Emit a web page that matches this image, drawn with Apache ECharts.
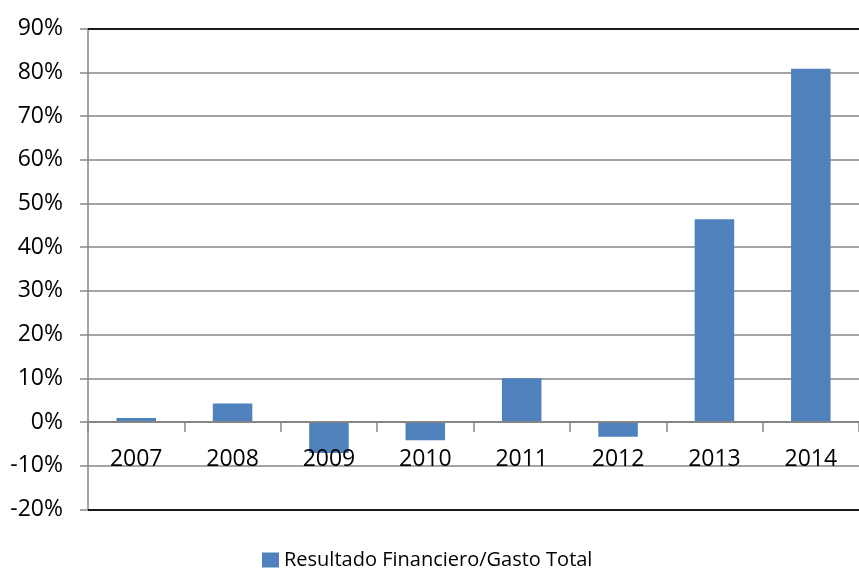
<!DOCTYPE html>
<html>
<head>
<meta charset="utf-8">
<script src="https://cdn.jsdelivr.net/npm/echarts@6/dist/echarts.min.js"></script>
<style>
  html, body { margin: 0; padding: 0; background: #fff; }
  #chart { width: 859px; height: 574px; }
</style>
</head>
<body>
<div id="chart"></div>
<script>
// Años del periodo analizado
const years = ['2007', '2008', '2009', '2010', '2011', '2012', '2013', '2014'];
// Resultado financiero como porcentaje del gasto total
const ratio = [0.9, 4.2, -7.1, -4.2, 10.0, -3.4, 46.4, 80.8];
const seriesName = 'Resultado Financiero/Gasto Total';
const yMin = -20, yMax = 90, yStep = 10;

const FONT = '"Open Sans", "Liberation Sans", sans-serif';
const chart = echarts.init(document.getElementById('chart'));

chart.setOption({
  animation: false,
  backgroundColor: '#ffffff',
  grid: { left: 88, top: 28.6, width: 781, bottom: 64.6, containLabel: false },
  legend: {
    data: [seriesName],
    left: 257, top: 545,
    itemWidth: 17, itemHeight: 15, itemGap: 3,
    icon: 'rect',
    textStyle: { fontFamily: FONT, fontSize: 20, color: '#000' }
  },
  xAxis: {
    type: 'category',
    data: years,
    z: 10,
    axisLine: { onZero: true, lineStyle: { color: '#868686', width: 2 } },
    axisTick: { show: true, alignWithLabel: false, length: 10, lineStyle: { color: '#868686', width: 1.5 } },
    // etiquetas de año justo debajo de la línea del 0 %
    axisLabel: { margin: -61, fontFamily: FONT, fontSize: 23, color: '#000' },
    splitLine: { show: false }
  },
  yAxis: {
    type: 'value',
    min: yMin, max: yMax, interval: yStep,
    axisLine: { show: true, lineStyle: { color: '#868686', width: 1.5 } },
    axisTick: { show: true, inside: false, length: 8, lineStyle: { color: '#868686', width: 1.5 } },
    axisLabel: {
      margin: 25, fontFamily: FONT, fontSize: 23, color: '#000',
      formatter: v => v + '%'
    },
    splitLine: { show: true, lineStyle: { color: '#868686', width: 1.5 } }
  },
  series: [{
    name: seriesName,
    type: 'bar',
    data: ratio,
    barWidth: '41%',
    itemStyle: { color: '#4F81BD' },
    // bordes superior e inferior del área de trazado
    markLine: {
      silent: true,
      symbol: 'none',
      label: { show: false },
      lineStyle: { color: '#1a1a1a', width: 2, type: 'solid' },
      data: [{ yAxis: yMax }, { yAxis: yMin }]
    }
  }]
});
</script>
</body>
</html>
